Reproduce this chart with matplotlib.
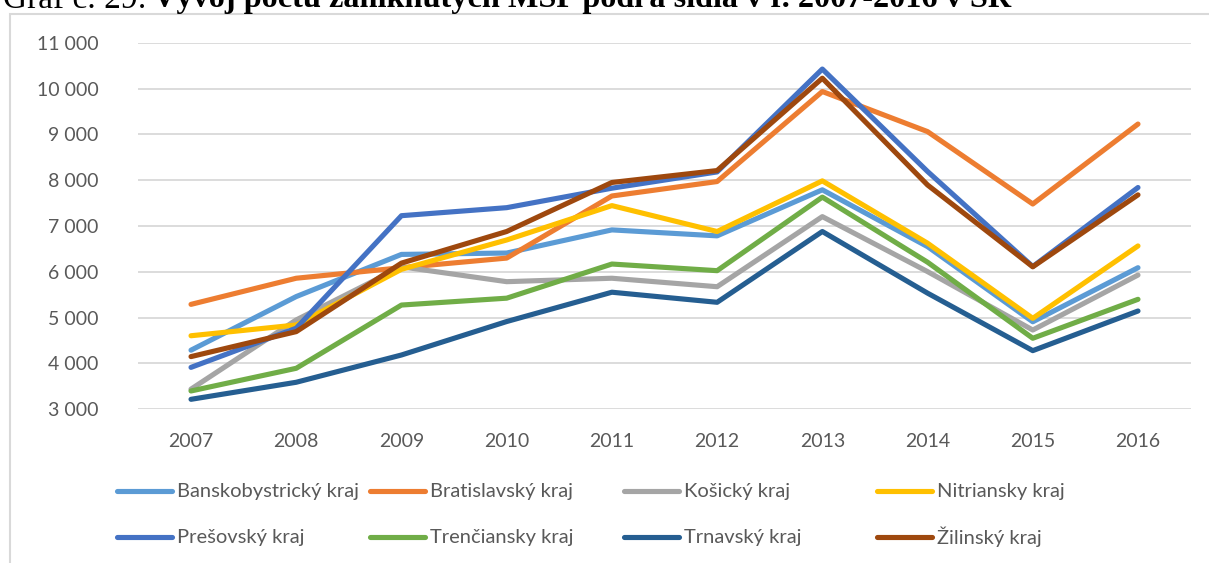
import matplotlib.pyplot as plt
from matplotlib.lines import Line2D
from matplotlib.patches import Rectangle
from matplotlib.ticker import FuncFormatter

years = ["2007", "2008", "2009", "2010", "2011", "2012", "2013", "2014", "2015", "2016"]

regions = ["Banskobystrický kraj", "Bratislavský kraj", "Košický kraj", "Nitriansky kraj",
           "Prešovský kraj", "Trenčiansky kraj", "Trnavský kraj", "Žilinský kraj"]

banska = [4290, 5460, 6380, 6410, 6915, 6785, 7790, 6550, 4910, 6090]
bratislava = [5290, 5860, 6090, 6300, 7655, 7970, 9935, 9060, 7480, 9225]
kosice = [3440, 4950, 6110, 5785, 5860, 5675, 7205, 6005, 4730, 5930]
nitra = [4605, 4840, 6055, 6695, 7445, 6880, 7985, 6625, 4985, 6565]
presov = [3915, 4770, 7225, 7400, 7825, 8180, 10425, 8190, 6115, 7840]
trencin = [3400, 3895, 5275, 5425, 6170, 6025, 7630, 6210, 4550, 5400]
trnava = [3218, 3590, 4185, 4915, 5555, 5335, 6880, 5535, 4280, 5145]
zilina = [4150, 4695, 6190, 6880, 7950, 8210, 10225, 7895, 6110, 7680]

series = [banska, bratislava, kosice, nitra, presov, trencin, trnava, zilina]
colors = ["#5B9BD5", "#ED7D31", "#A5A5A5", "#FFC000",
          "#4472C4", "#70AD47", "#255E91", "#9E480E"]

W, H = 1209, 563
FONT = "Lato"
GRAY = "#595959"

fig = plt.figure(figsize=(W / 100, H / 100), dpi=100)

# ramček grafu (orezaný vpravo a dole ako na screenshote)
fig.add_artist(Rectangle((10 / W, -0.1), 1.2, 1 - 14 / H + 0.1, transform=fig.transFigure,
                         fill=False, edgecolor="#D9D9D9", linewidth=1.5))

ax = fig.add_axes([138.4 / W, 1 - 409.3 / H, 1052.2 / W, 366.6 / H])
x = list(range(len(years)))
for vals, c in zip(series, colors):
    ax.plot(x, vals, color=c, linewidth=3.7, solid_joinstyle="round", solid_capstyle="round")

ax.set_xlim(-0.5, len(years) - 0.5)
ax.set_ylim(3000, 11000)
ax.set_yticks(range(3000, 11001, 1000))
ax.yaxis.set_major_formatter(FuncFormatter(lambda v, p: f"{int(v):,}".replace(",", " ")))
ax.set_xticks(x)
ax.set_xticklabels(years)
ax.grid(axis="y", color="#D9D9D9", linewidth=1.3)
ax.set_axisbelow(True)
for s in ax.spines.values():
    s.set_visible(False)
ax.tick_params(length=0, labelcolor=GRAY, labelsize=14)
ax.tick_params(axis="y", pad=28.5)
ax.tick_params(axis="x", pad=17)
for lab in ax.get_xticklabels() + ax.get_yticklabels():
    lab.set_family(FONT)

# legenda: 4 rovnaké stĺpce x 2 riadky
col_x = [117, 370, 624, 877]
row_y = [491, 537]
for i, (name, c) in enumerate(zip(regions, colors)):
    cx = col_x[i % 4]
    cy = row_y[i // 4]
    fig.add_artist(Line2D([cx / W, (cx + 55) / W], [1 - cy / H, 1 - cy / H],
                          transform=fig.transFigure, color=c, linewidth=3.7,
                          solid_capstyle="round"))
    fig.text((cx + 60) / W, 1 - cy / H, name, family=FONT, fontsize=14.5, color=GRAY,
             va="center", ha="left")

# nadpis, zhora orezaný; veľkosť písma dorovnaná na šírku z predlohy
t1 = fig.text(3 / W, 1 - 7.5 / H, "Graf č. 29:", family="Liberation Serif", fontsize=20,
              va="baseline", ha="left")
t2 = fig.text(153 / W, 1 - 7.5 / H, "Vývoj počtu zaniknutých MSP podľa sídla v r. 2007-2016 v SR",
              family="Liberation Serif", fontsize=20, fontweight="bold", va="baseline", ha="left")
r = fig.canvas.get_renderer()
for t, target in ((t1, 144), (t2, 857)):
    w = t.get_window_extent(r).width
    t.set_fontsize(20 * target / w)

fig.savefig("out.png", dpi=100)
